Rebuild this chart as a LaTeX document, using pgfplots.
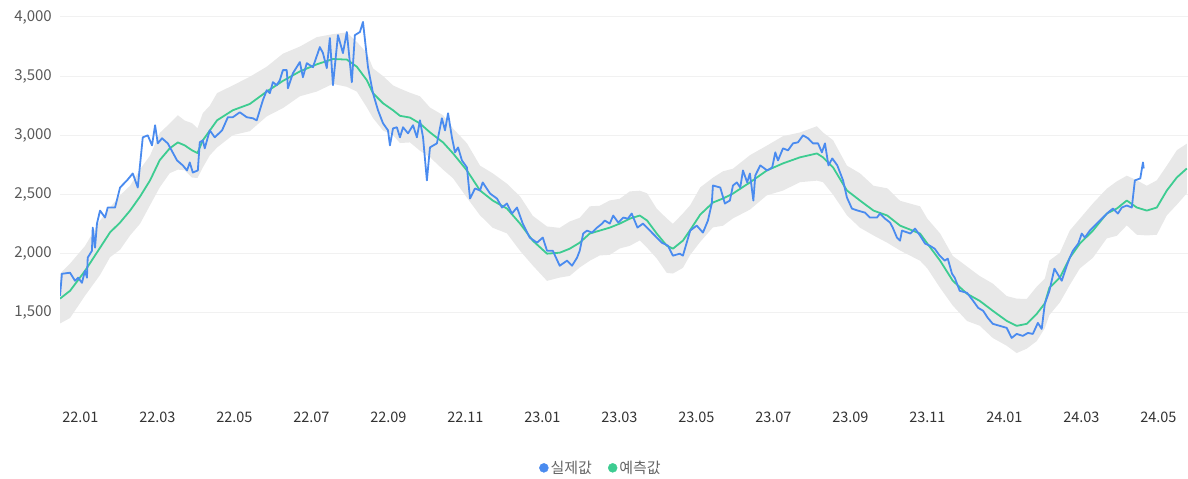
\documentclass[border=0pt]{standalone}
\usepackage{fontspec}
\setmainfont{Noto Sans CJK KR}
\usepackage{pgfplots}
\usepackage{pgfplotstable}
\pgfplotsset{compat=1.18}
\usepgfplotslibrary{fillbetween}
\definecolor{actual}{HTML}{4A8BEF}
\definecolor{predc}{HTML}{3DCC91}
\definecolor{bandc}{HTML}{E8E8E8}
\definecolor{gridc}{HTML}{F1F1F1}
\definecolor{ytxt}{HTML}{595959}
\definecolor{xtxt}{HTML}{333333}
\definecolor{legtxt}{HTML}{666666}

\pgfplotstableread{
m pred up lo
-0.53 1620 1830 1410
-0.27 1686 1916 1456
0.12 1855 2065 1645
0.51 2050 2280 1820
0.77 2180 2390 1970
1.03 2263 2493 2033
1.29 2364 2574 2154
1.55 2483 2713 2253
1.81 2620 2830 2410
2.06 2790 3020 2560
2.32 2890 3100 2680
2.53 2940 3170 2710
2.71 2915 3125 2705
2.90 2873 3103 2643
3.04 2850 3060 2640
3.18 2958 3188 2728
3.36 3040 3250 2830
3.55 3127 3357 2897
3.96 3212 3422 3002
4.40 3265 3495 3035
4.84 3370 3580 3160
5.26 3460 3690 3230
5.70 3540 3750 3330
6.14 3600 3830 3370
6.56 3645 3855 3435
6.92 3640 3870 3410
7.18 3580 3790 3370
7.44 3466 3696 3236
7.60 3356 3566 3146
7.86 3271 3501 3041
8.12 3212 3422 3002
8.30 3165 3395 2935
8.56 3150 3360 2940
8.82 3100 3330 2870
9.08 3025 3235 2815
9.42 2940 3170 2710
9.68 2847 3057 2637
10.04 2703 2933 2473
10.38 2534 2744 2324
10.71 2449 2679 2219
11.08 2381 2591 2171
11.42 2254 2484 2024
11.75 2110 2320 1900
12.12 2000 2230 1770
12.45 2008 2218 1798
12.71 2042 2272 1812
12.97 2093 2303 1883
13.23 2170 2400 1940
13.49 2195 2405 1985
13.75 2220 2450 1990
14.01 2254 2464 2044
14.27 2296 2526 2066
14.53 2322 2532 2112
14.72 2280 2510 2050
14.97 2170 2380 1960
15.23 2068 2298 1838
15.39 2042 2252 1832
15.65 2110 2340 1880
15.84 2200 2410 1990
16.10 2330 2560 2100
16.43 2432 2642 2222
16.69 2466 2696 2236
16.95 2508 2718 2298
17.39 2602 2832 2372
17.83 2703 2913 2493
18.25 2763 2993 2533
18.69 2814 3024 2604
19.13 2847 3077 2617
19.29 2814 3024 2604
19.55 2729 2959 2499
19.91 2534 2744 2324
20.25 2449 2679 2219
20.60 2364 2574 2154
20.96 2322 2552 2092
21.29 2237 2447 2027
21.81 2170 2400 1940
22.00 2085 2295 1875
22.33 1941 2171 1711
22.66 1771 1981 1561
23.03 1661 1891 1431
23.36 1601 1811 1391
23.70 1517 1747 1287
24.06 1432 1642 1222
24.32 1390 1620 1160
24.58 1407 1617 1197
24.84 1491 1721 1261
25.05 1580 1790 1370
25.17 1712 1942 1482
25.44 1797 2007 1587
25.70 1966 2196 1736
25.96 2085 2295 1875
26.30 2195 2425 1965
26.66 2339 2549 2129
26.92 2381 2611 2151
27.18 2449 2659 2239
27.44 2390 2620 2160
27.70 2364 2574 2154
27.96 2390 2620 2160
28.22 2534 2744 2324
28.48 2644 2874 2414
28.74 2720 2930 2510
}\predtable

\pgfplotstableread{
m val
-0.53 1644
-0.48 1830
-0.27 1839
-0.14 1771
-0.06 1797
0.04 1754
0.12 1856
0.17 1797
0.19 1966
0.30 2025
0.32 2220
0.38 2051
0.43 2254
0.51 2364
0.64 2305
0.71 2390
0.90 2390
1.03 2559
1.21 2619
1.36 2678
1.49 2559
1.62 2983
1.75 3000
1.86 2915
1.94 3085
2.01 2932
2.12 2975
2.27 2932
2.51 2788
2.66 2746
2.77 2703
2.84 2771
2.92 2686
3.05 2703
3.10 2941
3.18 2958
3.23 2890
3.36 3042
3.49 2983
3.68 3042
3.83 3153
3.96 3153
4.14 3195
4.32 3153
4.48 3144
4.58 3127
4.66 3212
4.74 3297
4.84 3381
4.92 3356
5.00 3449
5.10 3424
5.18 3466
5.26 3551
5.36 3551
5.39 3398
5.52 3525
5.70 3619
5.78 3491
5.88 3610
6.04 3576
6.22 3746
6.30 3695
6.40 3568
6.48 3822
6.56 3424
6.69 3847
6.82 3695
6.92 3873
7.05 3449
7.13 3847
7.26 3873
7.34 3958
7.47 3576
7.60 3356
7.73 3212
7.86 3102
7.99 3042
8.04 2915
8.12 3059
8.22 3068
8.30 2983
8.38 3068
8.51 3017
8.64 3085
8.74 2983
8.82 3127
8.90 2983
9.00 2619
9.08 2898
9.26 2932
9.39 3144
9.47 3042
9.55 3186
9.65 2983
9.73 2856
9.81 2898
9.91 2788
10.04 2729
10.12 2466
10.25 2551
10.38 2534
10.45 2602
10.64 2508
10.82 2466
10.95 2390
11.08 2424
11.21 2339
11.34 2390
11.49 2254
11.67 2136
11.86 2093
12.01 2136
12.12 2025
12.27 2025
12.45 1898
12.64 1941
12.77 1898
12.90 1966
12.97 2025
13.06 2170
13.16 2195
13.29 2178
13.42 2220
13.55 2254
13.62 2280
13.75 2254
13.84 2322
13.97 2263
14.10 2305
14.22 2296
14.32 2339
14.47 2220
14.61 2254
14.74 2212
14.92 2153
15.10 2093
15.26 2068
15.39 1983
15.57 2000
15.65 1983
15.84 2195
16.01 2237
16.17 2178
16.30 2280
16.40 2424
16.43 2576
16.62 2559
16.74 2424
16.87 2449
16.95 2576
17.05 2602
17.14 2559
17.21 2703
17.32 2602
17.39 2678
17.48 2449
17.53 2661
17.66 2746
17.84 2703
17.97 2729
18.05 2856
18.12 2788
18.25 2890
18.38 2873
18.51 2932
18.64 2941
18.77 3000
18.90 2975
19.03 2932
19.16 2932
19.26 2856
19.34 2932
19.43 2746
19.53 2805
19.66 2746
19.81 2619
19.91 2475
20.04 2381
20.19 2364
20.38 2347
20.51 2305
20.69 2305
20.77 2339
20.90 2296
21.03 2263
21.10 2220
21.21 2136
21.29 2110
21.34 2195
21.56 2170
21.68 2212
21.81 2153
21.94 2085
22.06 2068
22.19 2042
22.32 1983
22.45 1941
22.53 1958
22.64 1830
22.71 1797
22.84 1686
23.03 1669
23.19 1601
23.32 1542
23.45 1517
23.57 1457
23.70 1407
23.88 1390
24.06 1373
24.19 1288
24.32 1322
24.48 1305
24.61 1330
24.74 1322
24.87 1415
24.97 1364
25.05 1576
25.17 1686
25.30 1873
25.38 1830
25.49 1771
25.62 1898
25.70 1966
25.78 2025
25.92 2085
26.01 2170
26.09 2136
26.22 2195
26.35 2237
26.43 2263
26.56 2305
26.69 2347
26.82 2381
26.95 2339
27.05 2390
27.18 2407
27.31 2390
27.39 2619
27.53 2636
27.60 2771
27.62 2720
}\actualtable

\begin{document}
\begin{tikzpicture}
\begin{axis}[
  scale only axis, width=1128pt, height=355pt,
  xmin=-0.53, xmax=28.77, ymin=1000, ymax=4000,
  xtick={0,2,...,28},
  xticklabels={22.01,22.03,22.05,22.07,22.09,22.11,23.01,23.03,23.05,23.07,23.09,23.11,24.01,24.03,24.05},
  ytick={1500,2000,2500,3000,3500,4000},
  yticklabels={{1,500},{2,000},{2,500},{3,000},{3,500},{4,000}},
  axis line style={draw=none},
  major tick length=0pt,
  ymajorgrids, grid style={gridc, line width=1pt},
  xticklabel style={font=\fontsize{14.5}{16}\selectfont, text=xtxt, anchor=north, inner sep=0pt, yshift=-40pt},
  yticklabel style={font=\fontsize{15}{17}\selectfont, text=ytxt, anchor=east, inner sep=0pt, xshift=-8pt},
  legend style={at={(rel axis cs:0.4796,-0.270)}, anchor=center, draw=none, fill=none,
    legend columns=2, font=\fontsize{15}{17}\selectfont\color{legtxt},
    /tikz/every even column/.append style={column sep=14pt}},
  legend cell align=left,
  clip=true,
]
\coordinate (bl) at (rel axis cs:0,0);
\coordinate (tr) at (rel axis cs:1,1);
\addplot[name path=upper, draw=none, forget plot] table[x=m, y=up] {\predtable};
\addplot[name path=lower, draw=none, forget plot] table[x=m, y=lo] {\predtable};
\addplot[bandc, forget plot] fill between[of=upper and lower];
\addplot[predc, line width=1.8pt, line join=round, forget plot] table[x=m, y=pred] {\predtable};
\addplot[actual, line width=1.8pt, line join=round, forget plot] table[x=m, y=val] {\actualtable};
\addlegendimage{legend image code/.code={\fill[actual] (0.3em,0) circle (4.5pt);}}
\addlegendentry{실제값}
\addlegendimage{legend image code/.code={\fill[predc] (0.3em,0) circle (4.5pt);}}
\addlegendentry{예측값}
\end{axis}
\pgfresetboundingbox
\path[use as bounding box] ([xshift=-60pt,yshift=-106pt]bl) rectangle ([yshift=17pt]tr);
\end{tikzpicture}
\end{document}
